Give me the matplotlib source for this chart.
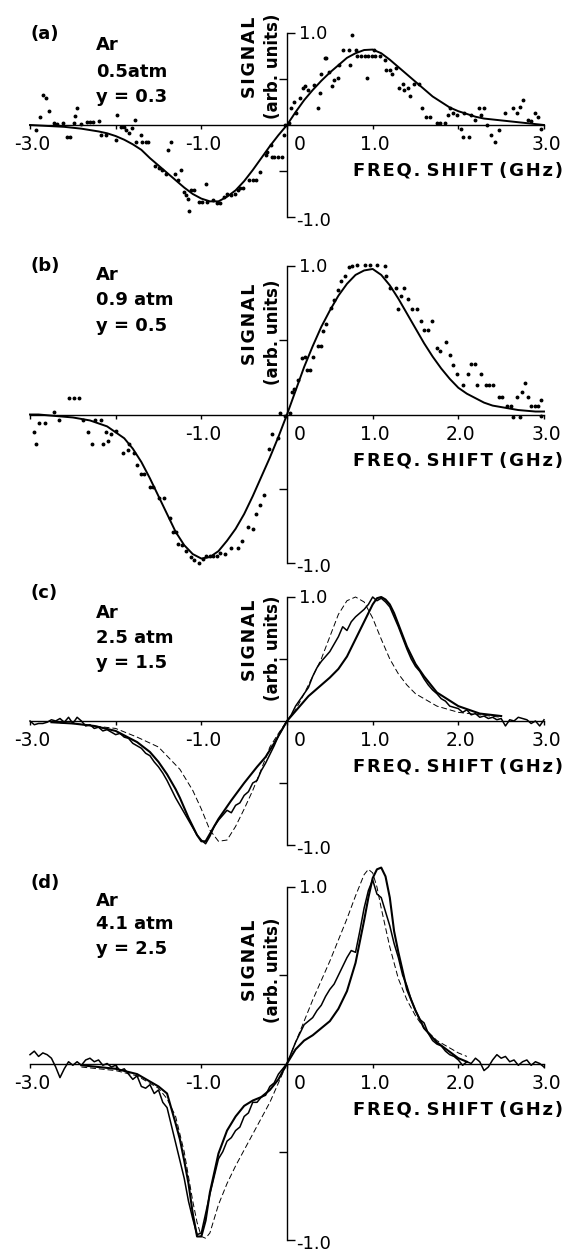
import numpy as np
import matplotlib
matplotlib.use("Agg")
import matplotlib.pyplot as plt
from matplotlib.transforms import offset_copy

plt.rcParams["font.family"] = ["DejaVu Sans"]

grid_x = np.linspace(-3.0, 3.0, 61)      # 0.1 GHz sampling of the fitted curves
meas_x = np.linspace(-3.0, 3.0, 121)     # 0.05 GHz sampling of the recorded traces

# ---------------- panel (a): Ar 0.5 atm, y = 0.3 ----------------
a_fit_y = [0.0, -0.005, -0.01, -0.015, -0.02, -0.03, -0.04, -0.055, -0.07, -0.09,
           -0.12, -0.16, -0.21, -0.27, -0.36, -0.44, -0.52, -0.60, -0.68, -0.75,
           -0.80, -0.83, -0.83, -0.78, -0.71, -0.61, -0.49, -0.36, -0.23, -0.11,
           0.0, 0.14, 0.27, 0.38, 0.48, 0.57, 0.65, 0.73, 0.78, 0.815,
           0.82, 0.78, 0.71, 0.63, 0.55, 0.47, 0.39, 0.31, 0.25, 0.19,
           0.15, 0.12, 0.09, 0.07, 0.06, 0.05, 0.04, 0.03, 0.02, 0.01, 0.0]
a_dots_x = [-2.93, -2.88, -2.85, -2.81, -2.78, -2.72, -2.68, -2.62, -2.57, -2.53, -2.49, -2.47,
            -2.45, -2.41, -2.34, -2.30, -2.26, -2.19, -2.17, -2.11, -2.00, -1.98, -1.94, -1.90,
            -1.88, -1.84, -1.81, -1.78, -1.76, -1.71, -1.69, -1.65, -1.62, -1.54, -1.50, -1.46,
            -1.41, -1.39, -1.35, -1.31, -1.27, -1.24, -1.20, -1.18, -1.16, -1.14, -1.12, -1.08,
            -1.03, -0.99, -0.95, -0.93, -0.86, -0.82, -0.78, -0.74, -0.70, -0.65, -0.61, -0.57,
            -0.55, -0.51, -0.44, -0.40, -0.36, -0.32, -0.25, -0.23, -0.19, -0.17, -0.15, -0.11,
            -0.06, -0.04, -0.02, 0.02, 0.05, 0.08, 0.11, 0.15, 0.19, 0.21, 0.25, 0.32, 0.36,
            0.38, 0.40, 0.44, 0.46, 0.49, 0.53, 0.55, 0.59, 0.61, 0.65, 0.72, 0.74, 0.76, 0.80,
            0.82, 0.86, 0.91, 0.93, 0.95, 0.99, 1.01, 1.03, 1.08, 1.14, 1.16, 1.20, 1.22, 1.27,
            1.31, 1.35, 1.37, 1.41, 1.43, 1.48, 1.54, 1.58, 1.62, 1.67, 1.75, 1.79, 1.84, 1.88,
            1.90, 1.94, 1.98, 2.03, 2.05, 2.07, 2.13, 2.15, 2.19, 2.24, 2.26, 2.30, 2.34, 2.38,
            2.43, 2.47, 2.55, 2.64, 2.68, 2.72, 2.76, 2.81, 2.85, 2.89, 2.93, 2.97]
a_dots_y = [-0.05, 0.09, 0.33, 0.29, 0.15, 0.02, 0.01, 0.02, -0.13, -0.13, 0.02, 0.10,
            0.18, 0.01, 0.03, 0.03, 0.03, 0.04, -0.11, -0.11, -0.16, 0.11, -0.02, -0.02,
            -0.05, -0.09, -0.03, 0.05, -0.18, -0.11, -0.18, -0.18, -0.18, -0.45, -0.47, -0.49,
            -0.53, -0.27, -0.18, -0.53, -0.60, -0.49, -0.73, -0.76, -0.80, -0.93, -0.71, -0.71,
            -0.84, -0.84, -0.64, -0.84, -0.82, -0.85, -0.85, -0.78, -0.75, -0.76, -0.75, -0.71,
            -0.69, -0.69, -0.60, -0.60, -0.60, -0.51, -0.33, -0.29, -0.22, -0.35, -0.35, -0.35,
            -0.35, -0.11, 0.0, 0.02, 0.18, 0.25, 0.13, 0.29, 0.40, 0.42, 0.38, 0.44, 0.18,
            0.35, 0.55, 0.73, 0.73, 0.58, 0.42, 0.49, 0.51, 0.65, 0.82, 0.82, 0.65, 0.98, 0.82,
            0.75, 0.75, 0.75, 0.51, 0.75, 0.75, 0.82, 0.75, 0.75, 0.71, 0.60, 0.60, 0.55, 0.62,
            0.40, 0.45, 0.38, 0.40, 0.31, 0.45, 0.45, 0.18, 0.09, 0.09, 0.02, 0.02, 0.02, 0.11,
            0.18, 0.13, 0.11, -0.04, -0.13, 0.13, -0.13, 0.11, 0.05, 0.18, 0.11, 0.18, 0.0, -0.11,
            -0.18, -0.05, 0.13, 0.18, 0.13, 0.20, 0.27, 0.05, 0.04, 0.13, 0.09, -0.04]

# ---------------- panel (b): Ar 0.9 atm, y = 0.5 ----------------
b_fit_y = [0.0, 0.0, -0.005, -0.01, -0.015, -0.02, -0.03, -0.04, -0.06, -0.08,
           -0.12, -0.16, -0.23, -0.32, -0.43, -0.55, -0.67, -0.79, -0.88, -0.94,
           -0.97, -0.96, -0.92, -0.85, -0.77, -0.67, -0.55, -0.42, -0.29, -0.15,
           0.0, 0.16, 0.32, 0.46, 0.59, 0.70, 0.80, 0.88, 0.94, 0.97,
           0.98, 0.94, 0.87, 0.78, 0.68, 0.58, 0.48, 0.39, 0.31, 0.24,
           0.18, 0.14, 0.11, 0.08, 0.06, 0.05, 0.04, 0.03, 0.025, 0.02, 0.02]
b_dots_x = [-2.95, -2.93, -2.89, -2.83, -2.72, -2.66, -2.55, -2.49, -2.43, -2.38, -2.32, -2.28,
            -2.24, -2.17, -2.15, -2.11, -2.09, -2.05, -2.00, -1.92, -1.86, -1.84, -1.79, -1.75,
            -1.71, -1.67, -1.60, -1.56, -1.50, -1.43, -1.37, -1.33, -1.29, -1.27, -1.22, -1.18,
            -1.12, -1.08, -1.03, -0.98, -0.94, -0.90, -0.86, -0.82, -0.78, -0.72, -0.65, -0.57,
            -0.53, -0.46, -0.40, -0.36, -0.32, -0.27, -0.21, -0.17, -0.11, -0.08, -0.02, 0.04,
            0.06, 0.08, 0.13, 0.17, 0.21, 0.23, 0.27, 0.30, 0.36, 0.40, 0.42, 0.46, 0.51, 0.55,
            0.59, 0.63, 0.68, 0.72, 0.76, 0.82, 0.91, 0.97, 1.05, 1.14, 1.16, 1.20, 1.27, 1.29,
            1.33, 1.37, 1.41, 1.46, 1.52, 1.56, 1.60, 1.65, 1.69, 1.75, 1.79, 1.86, 1.90, 1.94,
            1.98, 2.05, 2.11, 2.15, 2.19, 2.22, 2.26, 2.32, 2.36, 2.41, 2.47, 2.51, 2.57, 2.62,
            2.64, 2.68, 2.72, 2.74, 2.78, 2.81, 2.85, 2.89, 2.93, 2.97, 2.97]
b_dots_y = [-0.12, -0.20, -0.06, -0.06, 0.02, -0.04, 0.11, 0.11, 0.11, -0.04, -0.12, -0.20,
            -0.04, -0.04, -0.20, -0.12, -0.18, -0.13, -0.11, -0.26, -0.24, -0.20, -0.26, -0.34,
            -0.40, -0.40, -0.49, -0.49, -0.56, -0.56, -0.70, -0.79, -0.79, -0.87, -0.88, -0.92,
            -0.96, -0.98, -1.00, -0.97, -0.95, -0.95, -0.95, -0.95, -0.93, -0.94, -0.90, -0.90,
            -0.85, -0.76, -0.77, -0.67, -0.61, -0.54, -0.23, -0.13, -0.16, 0.01, -0.01, 0.01,
            0.15, 0.17, 0.23, 0.38, 0.39, 0.30, 0.30, 0.39, 0.46, 0.46, 0.56, 0.61, 0.72, 0.77,
            0.84, 0.90, 0.93, 0.99, 1.00, 1.01, 1.01, 1.01, 1.01, 1.00, 0.93, 0.85, 0.85, 0.71,
            0.80, 0.85, 0.78, 0.71, 0.71, 0.63, 0.57, 0.57, 0.63, 0.45, 0.43, 0.49, 0.40, 0.33,
            0.27, 0.20, 0.27, 0.34, 0.34, 0.20, 0.27, 0.20, 0.20, 0.20, 0.12, 0.12, 0.06, 0.06,
            -0.02, 0.12, -0.02, 0.15, 0.21, 0.12, 0.06, 0.06, 0.06, 0.10, -0.01]

# ---------------- panel (c): Ar 2.5 atm, y = 1.5 ----------------
c_fit_x = [-2.75, -2.5, -2.25, -2.0, -1.75, -1.6, -1.5, -1.4, -1.3, -1.25, -1.2, -1.15, -1.1,
           -1.05, -1.0, -0.95, -0.9, -0.85, -0.8, -0.75, -0.65, -0.5, -0.35, -0.25, -0.15,
           0.0, 0.15, 0.25, 0.4, 0.5, 0.6, 0.7, 0.8, 0.9, 0.95, 1.0, 1.05, 1.1, 1.15, 1.2,
           1.25, 1.3, 1.4, 1.5, 1.6, 1.75, 2.0, 2.25, 2.5]
c_fit_y = [-0.01, -0.02, -0.04, -0.08, -0.17, -0.25, -0.33, -0.43, -0.55, -0.62, -0.70, -0.78,
           -0.85, -0.92, -0.97, -0.97, -0.91, -0.85, -0.79, -0.74, -0.64, -0.50, -0.37, -0.29,
           -0.18, 0.0, 0.12, 0.20, 0.29, 0.35, 0.42, 0.52, 0.66, 0.80, 0.87, 0.94, 0.99, 1.0,
           0.98, 0.94, 0.87, 0.78, 0.60, 0.46, 0.36, 0.23, 0.12, 0.06, 0.04]
c_dash_x = [-2.75, -2.5, -2.0, -1.75, -1.5, -1.25, -1.1, -1.0, -0.9, -0.8, -0.7, -0.6, -0.5,
            -0.4, -0.3, -0.2, -0.1, 0.0, 0.1, 0.2, 0.3, 0.4, 0.5, 0.6, 0.7, 0.8, 0.9, 1.0, 1.1,
            1.2, 1.3, 1.4, 1.5, 1.75, 2.0, 2.5]
c_dash_y = [-0.01, -0.02, -0.06, -0.13, -0.21, -0.39, -0.56, -0.71, -0.88, -0.97, -0.96, -0.85,
            -0.71, -0.56, -0.39, -0.21, -0.10, 0.0, 0.09, 0.22, 0.36, 0.50, 0.68, 0.86, 0.97,
            1.0, 0.96, 0.83, 0.66, 0.50, 0.38, 0.29, 0.22, 0.12, 0.07, 0.03]
c_meas_y = [0.0, -0.03, -0.02, -0.02, -0.01, 0.01, 0.0, 0.02, -0.01, 0.03, -0.02, 0.03,
            0.0, -0.04, -0.03, -0.06, -0.05, -0.08, -0.07, -0.09, -0.11, -0.10, -0.13, -0.14,
            -0.18, -0.20, -0.22, -0.26, -0.28, -0.33, -0.37, -0.42, -0.48, -0.55, -0.62, -0.68,
            -0.74, -0.80, -0.86, -0.92, -0.96, -0.99, -0.93, -0.85, -0.80, -0.76, -0.72, -0.74,
            -0.68, -0.66, -0.60, -0.57, -0.50, -0.48, -0.40, -0.34, -0.27, -0.20, -0.12, -0.06,
            0.0, 0.05, 0.12, 0.17, 0.22, 0.27, 0.36, 0.43, 0.48, 0.52, 0.56, 0.62, 0.68, 0.76,
            0.73, 0.80, 0.84, 0.87, 0.90, 0.94, 1.00, 0.97, 0.99, 0.96, 0.92, 0.84, 0.76, 0.67,
            0.58, 0.50, 0.44, 0.40, 0.34, 0.29, 0.25, 0.22, 0.18, 0.16, 0.12, 0.11, 0.10, 0.07,
            0.09, 0.05, 0.06, 0.03, 0.04, 0.02, 0.03, 0.01, 0.02, -0.04, 0.01, 0.0, 0.03, 0.02,
            0.01, -0.02, 0.0, -0.04, 0.01]

# ---------------- panel (d): Ar 4.1 atm, y = 2.5 ----------------
d_fit_x = [-2.4, -2.0, -1.75, -1.5, -1.4, -1.3, -1.25, -1.2, -1.15, -1.1, -1.05, -1.0, -0.95,
           -0.9, -0.85, -0.8, -0.7, -0.6, -0.5, -0.4, -0.3, -0.2, -0.1, 0.0, 0.1, 0.2, 0.3,
           0.4, 0.5, 0.6, 0.7, 0.8, 0.9, 0.95, 1.0, 1.05, 1.1, 1.15, 1.2, 1.25, 1.3, 1.4, 1.5,
           1.6, 1.75, 2.0, 2.1]
d_fit_y = [-0.01, -0.03, -0.06, -0.13, -0.17, -0.34, -0.43, -0.55, -0.68, -0.85, -0.98, -0.98,
           -0.89, -0.73, -0.62, -0.51, -0.38, -0.30, -0.24, -0.21, -0.19, -0.15, -0.09, 0.0,
           0.08, 0.13, 0.16, 0.20, 0.24, 0.31, 0.41, 0.57, 0.81, 0.94, 1.05, 1.10, 1.11, 1.06,
           0.94, 0.75, 0.63, 0.42, 0.30, 0.20, 0.12, 0.03, 0.01]
d_dash_x = [-2.4, -2.0, -1.75, -1.5, -1.4, -1.3, -1.2, -1.1, -1.05, -1.0, -0.95, -0.9, -0.85,
            -0.8, -0.7, -0.6, -0.5, -0.4, -0.3, -0.2, -0.1, 0.0, 0.1, 0.2, 0.3, 0.4, 0.5, 0.6,
            0.7, 0.8, 0.9, 0.95, 1.0, 1.05, 1.1, 1.2, 1.3, 1.4, 1.5, 1.6, 1.75, 2.0, 2.1]
d_dash_y = [-0.02, -0.04, -0.07, -0.14, -0.20, -0.30, -0.50, -0.78, -0.90, -0.98, -0.99, -0.96,
            -0.88, -0.80, -0.68, -0.58, -0.49, -0.40, -0.31, -0.22, -0.11, 0.0, 0.12, 0.24,
            0.36, 0.47, 0.58, 0.70, 0.82, 0.95, 1.07, 1.10, 1.08, 1.00, 0.88, 0.66, 0.48, 0.36,
            0.27, 0.20, 0.13, 0.06, 0.04]
d_meas_y = [0.05, 0.07, 0.04, 0.06, 0.05, 0.03, -0.02, -0.08, -0.03, 0.01, -0.01, 0.01,
            -0.01, 0.02, 0.03, 0.01, 0.02, -0.01, 0.0, -0.02, -0.01, -0.04, -0.03, -0.06,
            -0.09, -0.07, -0.13, -0.14, -0.12, -0.17, -0.15, -0.22, -0.25, -0.35, -0.45, -0.55,
            -0.65, -0.78, -0.88, -0.97, -0.96, -0.85, -0.74, -0.64, -0.54, -0.50, -0.44, -0.42,
            -0.38, -0.36, -0.30, -0.28, -0.22, -0.22, -0.19, -0.18, -0.13, -0.11, -0.06, -0.03,
            0.0, 0.06, 0.12, 0.17, 0.22, 0.24, 0.26, 0.30, 0.33, 0.38, 0.42, 0.45, 0.50, 0.55,
            0.60, 0.64, 0.63, 0.75, 0.88, 0.98, 1.04, 0.96, 0.94, 0.86, 0.78, 0.68, 0.60, 0.50,
            0.44, 0.36, 0.30, 0.25, 0.23, 0.17, 0.13, 0.11, 0.10, 0.07, 0.05, 0.04, 0.02, -0.01,
            0.01, 0.0, 0.03, 0.01, -0.04, -0.02, 0.02, 0.05, 0.03, 0.04, 0.01, 0.02, -0.01, 0.01,
            0.02, -0.01, 0.01, 0.0, -0.02]

tick_pos = [-3, -2, -1, 0, 1, 2, 3]
panel_ticklabels = {
    "a": ["-3.0", "", "-1.0", "0", "1.0", "", "3.0"],
    "b": ["", "", "-1.0", "0", "1.0", "2.0", "3.0"],
    "c": ["-3.0", "", "-1.0", "0", "1.0", "2.0", "3.0"],
    "d": ["-3.0", "", "-1.0", "0", "1.0", "2.0", "3.0"],
}
panel_text = {
    "a": ("(a)", ["Ar", "0.5atm", "y = 0.3"]),
    "b": ("(b)", ["Ar", "0.9 atm", "y = 0.5"]),
    "c": ("(c)", ["Ar", "2.5 atm", "y = 1.5"]),
    "d": ("(d)", ["Ar", "4.1 atm", "y = 2.5"]),
}

# layout in pixels: (top of +1.0, bottom of -1.0)
W, H = 564, 1253
panel_box = {"a": (33, 217), "b": (266, 563), "c": (597, 845), "d": (887, 1240)}
text_rows = {"a": (34, [45, 72, 97]), "b": (266, [275, 300, 326]),
             "c": (593, [613, 638, 663]), "d": (883, [901, 924, 949])}
signal_y = {"a": (57, 66), "b": (324, 332), "c": (640, 648), "d": (960, 970)}

HAIR = "\u200a"


def spaced(s):
    out = ""
    for i, ch in enumerate(s):
        out += ch
        if i < len(s) - 1 and ch != " " and s[i + 1] != " ":
            out += HAIR
    return out


fig = plt.figure(figsize=(W / 100, H / 100), dpi=100)
axes = {}
for key, (top, bot) in panel_box.items():
    ax = fig.add_axes([30 / W, 1 - bot / H, 514 / W, (bot - top) / H])
    ax.set_xlim(-3, 3)
    ax.set_ylim(-1, 1)
    ax.patch.set_visible(False)
    for s in ["top", "right"]:
        ax.spines[s].set_visible(False)
    ax.spines["left"].set_position(("data", 0))
    ax.spines["bottom"].set_position(("data", 0))
    for s in ["left", "bottom"]:
        ax.spines[s].set_linewidth(1.0)
    ax.set_xticks(tick_pos)
    ax.set_xticklabels([])
    ax.tick_params(axis="x", direction="out", length=3, width=1.0)
    ax.set_yticks([-1, 1])
    ax.set_yticklabels([])
    ax.tick_params(axis="y", which="major", direction="in", length=6, width=1.0)
    ax.set_yticks([-0.5, 0.5], minor=True)
    ax.tick_params(axis="y", which="minor", direction="out", length=6, width=1.0)
    axes[key] = ax

    # x tick labels
    for xv, lab in zip(tick_pos, panel_ticklabels[key]):
        if not lab:
            continue
        dx = 13 if xv == 0 else 2
        tr = offset_copy(ax.transData, fig=fig, x=dx, y=-20, units="dots")
        ax.text(xv, 0, lab, transform=tr, ha="center", va="center", fontsize=13.5)
    # y end labels
    tr = offset_copy(ax.transData, fig=fig, x=12, y=-1, units="dots")
    ax.text(0, 1, "1.0", transform=tr, ha="left", va="center", fontsize=13)
    tr = offset_copy(ax.transData, fig=fig, x=9, y=-4, units="dots")
    ax.text(0, -1, "-1.0", transform=tr, ha="left", va="center", fontsize=13)
    # axis labels
    tr = offset_copy(ax.transData, fig=fig, x=0, y=-46, units="dots")
    ax.text(3.22, 0, spaced("FREQ. SHIFT (GHz)"), transform=tr, ha="right", va="center",
            fontsize=13, fontweight="bold")
    sy, ay = signal_y[key]
    fig.text(250 / W, 1 - sy / H, spaced("SIGNAL"), rotation=90, ha="center", va="center",
             fontsize=12.5, fontweight="bold")
    fig.text(273 / W, 1 - ay / H, "(arb. units)", rotation=90, ha="center", va="center",
             fontsize=12, fontweight="bold")
    # panel annotations
    lab, rows = panel_text[key]
    ly, rys = text_rows[key]
    fig.text(30 / W, 1 - ly / H, lab, ha="left", va="center", fontsize=13, fontweight="bold")
    for txt, ry in zip(rows, rys):
        fig.text(96 / W, 1 - ry / H, txt, ha="left", va="center", fontsize=13, fontweight="bold")

line_kw = dict(color="black", clip_on=False)
axes["a"].plot(grid_x, a_fit_y, lw=1.4, **line_kw)
axes["a"].plot(a_dots_x, a_dots_y, ls="none", marker="o", ms=1.8, **line_kw)

axes["b"].plot(grid_x, b_fit_y, lw=1.4, **line_kw)
axes["b"].plot(b_dots_x, b_dots_y, ls="none", marker="o", ms=1.8, **line_kw)

axes["c"].plot(c_fit_x, c_fit_y, lw=1.5, **line_kw)
axes["c"].plot(c_dash_x, c_dash_y, lw=0.7, ls=(0, (6, 3)), **line_kw)
axes["c"].plot(meas_x, c_meas_y, lw=1.1, **line_kw)

axes["d"].plot(d_fit_x, d_fit_y, lw=1.5, **line_kw)
axes["d"].plot(d_dash_x, d_dash_y, lw=0.7, ls=(0, (6, 3)), **line_kw)
axes["d"].plot(meas_x, d_meas_y, lw=1.1, **line_kw)

fig.savefig("out.png", dpi=100)
